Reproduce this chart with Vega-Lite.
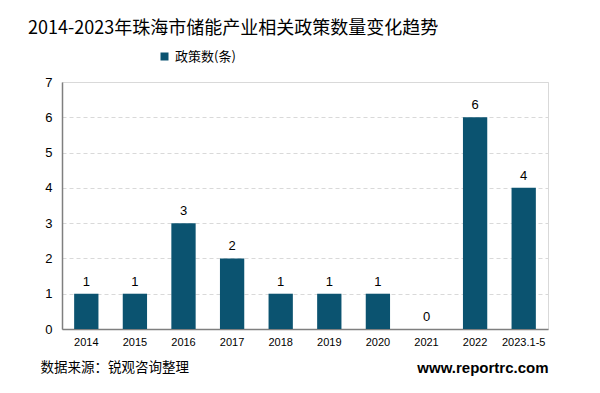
{
  "$schema": "https://vega.github.io/schema/vega-lite/v6.json",
  "width": 486,
  "height": 247,
  "autosize": {"type": "none"},
  "padding": {"left": 62, "top": 82, "right": 52, "bottom": 64},
  "background": "white",
  "title": {
    "text": "2014-2023年珠海市储能产业相关政策数量变化趋势",
    "anchor": "start",
    "frame": "group",
    "font": "Noto Sans CJK SC",
    "fontSize": 18,
    "fontWeight": "normal",
    "color": "#000000",
    "dx": -34,
    "offset": 3,
    "baseline": "middle"
  },
  "config": {
    "view": {"stroke": "#D9D9D9", "strokeWidth": 1},
    "axis": {"labelFont": "Liberation Sans", "titleFont": "Noto Sans CJK SC"}
  },
  "data": {
    "values": [
      {"year": "2014", "count": 1, "series": "政策数(条)"},
      {"year": "2015", "count": 1, "series": "政策数(条)"},
      {"year": "2016", "count": 3, "series": "政策数(条)"},
      {"year": "2017", "count": 2, "series": "政策数(条)"},
      {"year": "2018", "count": 1, "series": "政策数(条)"},
      {"year": "2019", "count": 1, "series": "政策数(条)"},
      {"year": "2020", "count": 1, "series": "政策数(条)"},
      {"year": "2021", "count": 0, "series": "政策数(条)"},
      {"year": "2022", "count": 6, "series": "政策数(条)"},
      {"year": "2023.1-5", "count": 4, "series": "政策数(条)"}
    ]
  },
  "encoding": {
    "x": {
      "field": "year",
      "type": "nominal",
      "sort": null,
      "scale": {"paddingInner": 0.5, "paddingOuter": 0.25}
    },
    "y": {
      "field": "count",
      "type": "quantitative",
      "scale": {"domain": [0, 7]},
      "axis": {
        "title": null,
        "values": [0, 1, 2, 3, 4, 5, 6, 7],
        "labelFontSize": 13,
        "labelColor": "#000000",
        "labelPadding": 10,
        "ticks": false,
        "domainColor": "#7F7F7F",
        "domainWidth": 1.5,
        "gridColor": "#D9D9D9",
        "gridDash": [4, 3]
      }
    }
  },
  "layer": [
    {
      "mark": {"type": "bar", "color": "#0B5370"},
      "encoding": {
        "color": {
          "field": "series",
          "type": "nominal",
          "scale": {"range": ["#0B5370"]},
          "legend": {
            "title": null,
            "orient": "none",
            "legendX": 96,
            "legendY": -32,
            "symbolType": "square",
            "symbolSize": 64,
            "symbolStrokeWidth": 0,
            "labelFont": "Noto Sans CJK SC",
            "labelFontSize": 13,
            "labelColor": "#000000",
            "labelOffset": 4
          }
        },
        "x": {
          "field": "year",
          "type": "nominal",
          "sort": null,
          "axis": {
            "orient": "bottom",
            "labelAngle": 0,
            "labelFontSize": 11,
            "labelColor": "#000000",
            "labelPadding": 7,
            "ticks": false,
            "domainColor": "#7F7F7F",
            "domainWidth": 1.5,
            "title": "数据来源：锐观咨询整理",
            "titleFontSize": 13.5,
            "titleFontWeight": "normal",
            "titleColor": "#000000",
            "titleAnchor": "start",
            "titleAlign": "left",
            "titleBaseline": "middle",
            "titleX": -22,
            "titleY": 38
          }
        }
      }
    },
    {
      "mark": {"type": "text", "baseline": "bottom", "dy": -5, "font": "Liberation Sans", "fontSize": 13, "color": "#000000"},
      "encoding": {
        "text": {"field": "count", "type": "quantitative"},
        "x": {
          "field": "year",
          "type": "nominal",
          "sort": null,
          "axis": {
            "orient": "bottom",
            "labels": false,
            "ticks": false,
            "domain": false,
            "grid": false,
            "title": "www.reportrc.com",
            "titleFont": "Liberation Sans",
            "titleFontSize": 15,
            "titleFontWeight": "bold",
            "titleColor": "#000000",
            "titleAnchor": "end",
            "titleAlign": "right",
            "titleBaseline": "middle",
            "titleX": 486,
            "titleY": 38
          }
        }
      }
    }
  ],
  "resolve": {"axis": {"x": "independent"}}
}
